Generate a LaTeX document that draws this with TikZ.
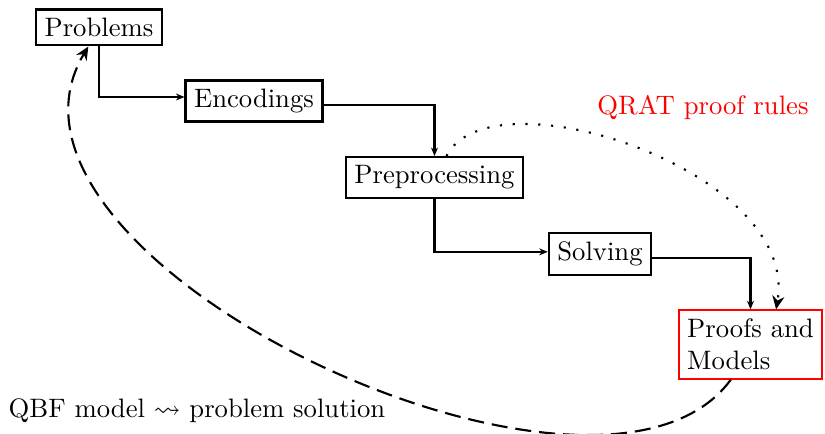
\documentclass[tikz,border=0pt]{standalone}
\usepackage{amssymb}
\usetikzlibrary{arrows.meta}
\begin{document}
\begin{tikzpicture}[x=0.375pt,y=-0.375pt,
  box/.style={draw,thick,inner sep=3.2pt},
  flow/.style={thick,-{Stealth[length=3.2pt,width=2.6pt]}},
  back/.style={thick,dash pattern=on 6pt off 3pt,-{Stealth[length=5pt,width=4.5pt]}},
  rule/.style={thick,loosely dotted,-{Stealth[length=5pt,width=4.5pt]}}]
\useasboundingbox (0,0) rectangle (825,434);
\node[box] (prob) at (99,27.5) {Problems};
\node[box] (enc) at (254,101) {Encodings};
\node[box] (pre) at (434.5,177.5) {Preprocessing};
\node[box] (sol) at (600,254) {Solving};
\node[box,draw=red,align=left] (pm) at (750.5,344.5) {Proofs and\\Models};
\node[text=red] (qrat) at (703,108) {QRAT proof rules};
\node (qbf) at (197,411) {QBF model $\leadsto$ problem solution};
\draw[flow] (prob.south) |- ([yshift=1.5pt]enc.west);
\draw[flow] ([yshift=-1.5pt]enc.east) -| (pre.north);
\draw[flow] (pre.south) |- ([yshift=0.8pt]sol.west);
\draw[flow] ([yshift=-1.5pt]sol.east) -| (pm.north);
\draw[rule] ([xshift=4.5pt]pre.north) .. controls (490,70) and (800,170) .. ([xshift=9.6pt]pm.north);
\draw[back] ([xshift=-7.4pt]pm.south) .. controls (600,560) and (-40,260) .. ([xshift=-4pt]prob.south);
\end{tikzpicture}
\end{document}
